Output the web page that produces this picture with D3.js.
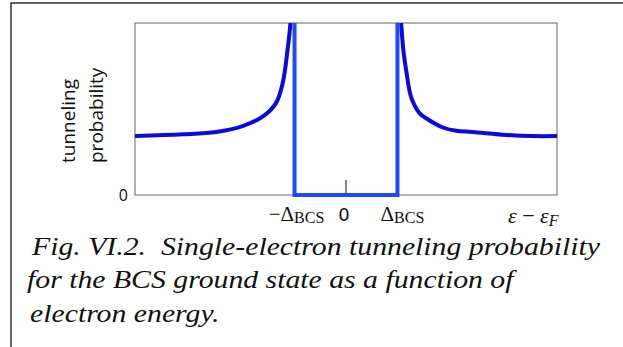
<!DOCTYPE html>
<html>
<head>
<meta charset="utf-8">
<script src="https://cdn.jsdelivr.net/npm/d3@7"></script>
<style>
  body { margin: 0; background: #fff; }
  svg { display: block; }
</style>
</head>
<body>
<div id="chart"></div>
<script>
// energies in units of Delta_BCS, probability normalised to the flat (normal-state) level
const leftE = [-4.1, -3.17, -2.52, -2.01, -1.62, -1.36, -1.23, -1.136, -1.08, -1.06];
const leftP = [1.0, 1.03, 1.07, 1.17, 1.33, 1.56, 1.90, 2.46, 2.92, 3.3];
const rightE = [1.05, 1.072, 1.117, 1.169, 1.266, 1.427, 1.58, 1.87, 2.14, 2.46, 3.12, 3.62, 4.1];
const rightP = [3.3, 2.92, 2.44, 2.12, 1.66, 1.39, 1.29, 1.15, 1.09, 1.07, 1.02, 1.0, 1.0];
const gapE = [-1, -1, 1, 1];
const gapP = [3.3, 0, 0, 3.3];

const xDomain = [-4.1, 4.1];
const yDomain = [0, 2.92];

const W = 623, H = 347;
const box = { left: 135, right: 557, top: 23, bottom: 195 };

const svg = d3.select("#chart")
  .append("svg")
  .attr("width", W)
  .attr("height", H);

// outer frame of the figure (top and left edges only)
svg.append("path")
  .attr("d", `M11,${H} L11,3 L${W},3`)
  .attr("fill", "none")
  .attr("stroke", "#333")
  .attr("stroke-width", 1.5);

const x = d3.scaleLinear().domain(xDomain).range([box.left, box.right]);
const y = d3.scaleLinear().domain(yDomain).range([box.bottom, box.top]);

svg.append("clipPath")
  .attr("id", "plot-clip")
  .append("rect")
  .attr("x", box.left)
  .attr("y", box.top)
  .attr("width", box.right - box.left)
  .attr("height", box.bottom - box.top + 3);

// plot frame
svg.append("rect")
  .attr("x", box.left)
  .attr("y", box.top)
  .attr("width", box.right - box.left)
  .attr("height", box.bottom - box.top)
  .attr("fill", "none")
  .attr("stroke", "#666")
  .attr("stroke-width", 1);

// small tick at zero
svg.append("line")
  .attr("x1", x(0)).attr("x2", x(0))
  .attr("y1", y(0)).attr("y2", y(0) - 15)
  .attr("stroke", "#111")
  .attr("stroke-width", 1);

const line = d3.line()
  .x(d => x(d[0]))
  .y(d => y(d[1]))
  .curve(d3.curveCatmullRom.alpha(0.5));

const plot = svg.append("g").attr("clip-path", "url(#plot-clip)");

plot.append("path")
  .datum(d3.zip(leftE, leftP))
  .attr("fill", "none")
  .attr("stroke", "#0a0ade")
  .attr("stroke-width", 4)
  .attr("d", line);

plot.append("path")
  .datum(d3.zip(rightE, rightP))
  .attr("fill", "none")
  .attr("stroke", "#0a0ade")
  .attr("stroke-width", 4)
  .attr("d", line);

// the gap: zero probability between -Delta and +Delta
plot.append("path")
  .datum(d3.zip(gapE, gapP))
  .attr("fill", "none")
  .attr("stroke", "#1a4bff")
  .attr("stroke-width", 4)
  .attr("d", d3.line().x(d => x(d[0])).y(d => y(d[1])));

// y-axis text
svg.append("text")
  .attr("x", 128)
  .attr("y", y(0))
  .attr("dy", "0.36em")
  .attr("text-anchor", "end")
  .style("font-family", "Open Sans")
  .style("font-size", "16px")
  .style("fill", "#111")
  .text("0");

const yLab = svg.append("text")
  .attr("transform", "translate(75,163) rotate(-90)")
  .style("font-family", "Open Sans")
  .style("font-size", "19px")
  .style("fill", "#111");
yLab.append("tspan").attr("x", 0).attr("y", 0).text("tunneling");
yLab.append("tspan").attr("x", 0).attr("y", 28).text("probability");

// x-axis tick labels
const tickFont = "'Liberation Serif', serif";

function deltaLabel(xPos, prefix) {
  const t = svg.append("text")
    .attr("x", xPos)
    .attr("y", 221)
    .attr("text-anchor", "middle")
    .style("font-family", tickFont)
    .style("font-size", "21px")
    .style("fill", "#111");
  t.append("tspan").text(prefix + "\u0394");
  t.append("tspan").attr("dy", 2).style("font-size", "16px").text("BCS");
}
deltaLabel(x(-1) + 2, "\u2212");
deltaLabel(x(1) + 5, "");

svg.append("text")
  .attr("x", x(0) - 2)
  .attr("y", 221)
  .attr("text-anchor", "middle")
  .style("font-family", "'DejaVu Sans', sans-serif")
  .style("font-size", "18px")
  .style("fill", "#111")
  .text("0");

const xLab = svg.append("text")
  .attr("x", 508)
  .attr("y", 223)
  .style("font-family", tickFont)
  .style("font-size", "22px")
  .style("font-style", "italic")
  .style("fill", "#111");
xLab.append("tspan").text("\u03B5 ");
xLab.append("tspan").style("font-style", "normal").text("\u2212");
xLab.append("tspan").text(" \u03B5");
xLab.append("tspan").attr("dy", 3).style("font-size", "16px").text("F");

// caption
const caption = [
  "Fig. VI.2.  Single-electron tunneling probability",
  "for the BCS ground state as a function of",
  "electron energy."
];
const capStart = [32, 27, 30];
const capG = svg.append("g");
const capText = capG.selectAll("text")
  .data(caption)
  .join("text")
  .attr("x", 0)
  .attr("y", (d, i) => 255 + i * 33.5)
  .attr("xml:space", "preserve")
  .style("white-space", "pre")
  .style("font-family", "'Liberation Serif', serif")
  .style("font-size", "26px")
  .style("font-style", "italic")
  .style("fill", "#111")
  .text(d => d);

// the figure is a little wider than the font: stretch to the same line width
const firstLen = capText.nodes()[0].getComputedTextLength();
const sx = (600 - capStart[0]) / firstLen;
capText.attr("transform", (d, i) => `translate(${capStart[i]},0) scale(${sx},1)`);
</script>
</body>
</html>
